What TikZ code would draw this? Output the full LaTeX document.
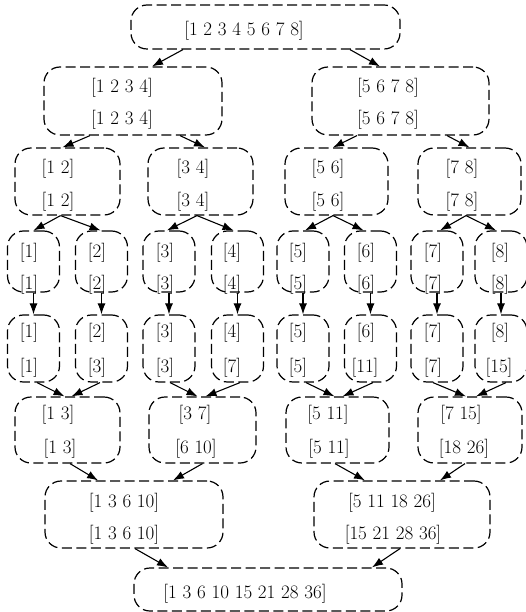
\documentclass[tikz,border=0pt]{standalone}
\usetikzlibrary{arrows.meta}
\begin{document}
\begin{tikzpicture}[x=1pt,y=-1pt,
  box/.style={draw, line width=1.2pt, dash pattern=on 10pt off 4.5pt, rounded corners=16pt, inner sep=0pt},
  lbl/.style={inner sep=0pt, font=\fontsize{19}{22}\selectfont},
  arr/.style={line width=1.1pt, -{Latex[length=11pt,width=8pt]}}]
\useasboundingbox (0,0) rectangle (526,612);
% boxes
\node[box, minimum width=269pt, minimum height=44pt] (T) at (265.5,27) {};
\node[box, minimum width=178pt, minimum height=68pt] (A) at (133,101) {};
\node[box, minimum width=177pt, minimum height=68pt] (B) at (400.5,101) {};
\foreach \n/\x/\w in {C1/67.5/105, C2/200.5/105, C3/336.5/103, C4/469.5/103}
  \node[box, minimum width=\w pt, minimum height=67pt] (\n) at (\x,181.5) {};
\foreach \i/\x in {1/33.5, 2/101.5, 3/169, 4/237.5, 5/303, 6/370.5, 7/437, 8/501}{
  \node[box, minimum width=52pt, minimum height=61pt] (L\i) at (\x,261.5) {};
  \node[box, minimum width=52pt, minimum height=67pt] (M\i) at (\x,348.5) {};
}
\foreach \n/\x/\w in {N1/67.5/105, N2/202.5/107, N3/337.5/103, N4/470/104}
  \node[box, minimum width=\w pt, minimum height=66pt] (\n) at (\x,430) {};
\node[box, minimum width=178pt, minimum height=67pt] (P1) at (134,514.5) {};
\node[box, minimum width=176pt, minimum height=67pt] (P2) at (402,514.5) {};
\node[box, minimum width=268pt, minimum height=43pt] (Q) at (268,589.5) {};
% texts
\node[lbl] (tT) at (244,31) {[1 2 3 4 5 6 7 8]};
\node[lbl] (tA1) at (122,88) {[1 2 3 4]};
\node[lbl] (tA2) at (122,120) {[1 2 3 4]};
\node[lbl] (tB1) at (388,88) {[5 6 7 8]};
\node[lbl] (tB2) at (388,120) {[5 6 7 8]};
\node[lbl] (tC1a) at (58,169) {[1 2]};
\node[lbl] (tC1b) at (58,202) {[1 2]};
\node[lbl] (tC2a) at (193,169) {[3 4]};
\node[lbl] (tC2b) at (193,202) {[3 4]};
\node[lbl] (tC3a) at (328,169) {[5 6]};
\node[lbl] (tC3b) at (328,202) {[5 6]};
\node[lbl] (tC4a) at (462,169) {[7 8]};
\node[lbl] (tC4b) at (462,202) {[7 8]};
\foreach \i/\x in {1/29, 2/97, 3/165, 4/232, 5/298, 6/366, 7/433, 8/500}{
  \node[lbl] (tL\i a) at (\x,253) {[\i]};
  \node[lbl] (tL\i b) at (\x,285) {[\i]};
  \node[lbl] (tM\i a) at (\x,333) {[\i]};
}
\node[lbl] (tM1b) at (29,368) {[1]};
\node[lbl] (tM2b) at (97,368) {[3]};
\node[lbl] (tM3b) at (165,368) {[3]};
\node[lbl] (tM4b) at (232,368) {[7]};
\node[lbl] (tM5b) at (298,368) {[5]};
\node[lbl] (tM6b) at (365,368) {[11]};
\node[lbl] (tM7b) at (433,368) {[7]};
\node[lbl] (tM8b) at (499,368) {[15]};
\node[lbl] (tN1a) at (58,415) {[1 3]};
\node[lbl] (tN1b) at (60,449) {[1 3]};
\node[lbl] (tN2a) at (195,415) {[3 7]};
\node[lbl] (tN2b) at (196,449) {[6 10]};
\node[lbl] (tN3a) at (328,415) {[5 11]};
\node[lbl] (tN3b) at (329,449) {[5 11]};
\node[lbl] (tN4a) at (461,415) {[7 15]};
\node[lbl] (tN4b) at (464,449) {[18 26]};
\node[lbl] (tP1a) at (124,503) {[1 3 6 10]};
\node[lbl] (tP1b) at (124,535) {[1 3 6 10]};
\node[lbl] (tP2a) at (392,503) {[5 11 18 26]};
\node[lbl] (tP2b) at (393,535) {[15 21 28 36]};
\node[lbl] (tQ) at (245,594) {[1 3 6 10 15 21 28 36]};
% arrows
\draw[arr] ([xshift=-82.5pt]T.south) -- ([xshift=19pt]A.north);
\draw[arr] ([xshift=84.5pt]T.south) -- ([xshift=-20.5pt]B.north);
\draw[arr] ([xshift=-43pt]A.south) -- ([xshift=-5pt]C1.north);
\draw[arr] ([xshift=47pt]A.south) -- ([xshift=4.5pt]C2.north);
\draw[arr] ([xshift=-43.5pt]B.south) -- ([xshift=-3.5pt]C3.north);
\draw[arr] ([xshift=46.5pt]B.south) -- ([xshift=0pt]C4.north);
\draw[arr] ([xshift=-7pt]C1.south) -- (L1.north);
\draw[arr] ([xshift=-7pt]C1.south) -- ([xshift=-1pt]L2.north);
\draw[arr] ([xshift=-3.5pt]C2.south) -- ([xshift=-2pt]L3.north);
\draw[arr] ([xshift=-3.5pt]C2.south) -- ([xshift=-4pt]L4.north);
\draw[arr] ([xshift=-3.5pt]C3.south) -- ([xshift=2pt]L5.north);
\draw[arr] ([xshift=-3.5pt]C3.south) -- ([xshift=-7pt]L6.north);
\draw[arr] ([xshift=-3.5pt]C4.south) -- ([xshift=3pt]L7.north);
\draw[arr] ([xshift=-3.5pt]C4.south) -- ([xshift=-5pt]L8.north);
\foreach \i in {1,...,8}
  \draw[arr] (L\i.south) -- (M\i.north);
\draw[arr] ([xshift=3.5pt]M1.south) -- ([xshift=-3pt]N1.north);
\draw[arr] ([xshift=-1.5pt]M2.south) -- ([xshift=4pt]N1.north);
\draw[arr] ([xshift=1pt]M3.south) -- ([xshift=-5pt]N2.north);
\draw[arr] ([xshift=2.5pt]M4.south) -- ([xshift=3pt]N2.north);
\draw[arr] ([xshift=3pt]M5.south) -- ([xshift=-3pt]N3.north);
\draw[arr] ([xshift=2.5pt]M6.south) -- ([xshift=5pt]N3.north);
\draw[arr] ([xshift=-4pt]M7.south) -- ([xshift=-4pt]N4.north);
\draw[arr] ([xshift=5pt]M8.south) -- ([xshift=6pt]N4.north);
\draw[arr] ([xshift=2.5pt]N1.south) -- ([xshift=-36pt]P1.north);
\draw[arr] ([xshift=0pt]N2.south) -- ([xshift=39pt]P1.north);
\draw[arr] ([xshift=-2.5pt]N3.south) -- ([xshift=-37pt]P2.north);
\draw[arr] ([xshift=-5pt]N4.south) -- ([xshift=38pt]P2.north);
\draw[arr] ([xshift=1pt]P1.south) -- ([xshift=-100pt]Q.north);
\draw[arr] ([xshift=-2pt]P2.south) -- ([xshift=104pt]Q.north);
\end{tikzpicture}
\end{document}
